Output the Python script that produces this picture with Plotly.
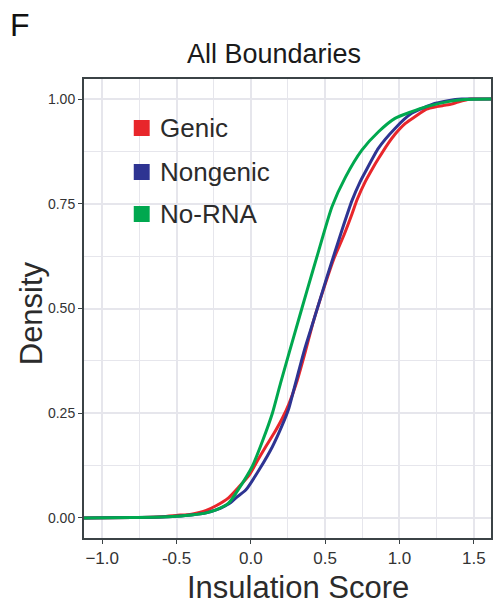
import plotly.graph_objects as go

# ---- data ----
series_names = ["Genic", "Nongenic", "No-RNA"]
series_colors = ["#E8262B", "#2E3492", "#00A84F"]

genic_x = [-1.13, -0.8, -0.6, -0.5, -0.4, -0.346, -0.3, -0.234, -0.15, -0.078, -0.01, 0.05,
           0.1, 0.156, 0.212, 0.256, 0.312, 0.36, 0.424, 0.502, 0.56, 0.624, 0.68, 0.714,
           0.77, 0.82, 0.859, 0.92, 0.97, 1.04, 1.104, 1.182, 1.25, 1.3, 1.35, 1.394, 1.48, 1.63]
genic_y = [0.0, 0.001, 0.003, 0.006, 0.009, 0.013, 0.018, 0.029, 0.048, 0.075, 0.103, 0.14,
           0.17, 0.202, 0.238, 0.272, 0.328, 0.388, 0.473, 0.56, 0.62, 0.673, 0.725, 0.759,
           0.803, 0.835, 0.858, 0.892, 0.916, 0.942, 0.958, 0.976, 0.982, 0.985, 0.988, 0.993, 1.0, 1.0]

nongenic_x = [-1.13, -0.8, -0.6, -0.5, -0.4, -0.3, -0.234, -0.15, -0.10, -0.033, 0.056, 0.145,
              0.212, 0.256, 0.301, 0.36, 0.424, 0.513, 0.613, 0.68, 0.736, 0.77, 0.859, 0.97,
              1.082, 1.215, 1.327, 1.42, 1.63]
nongenic_y = [0.0, 0.001, 0.002, 0.004, 0.007, 0.012, 0.019, 0.033, 0.048, 0.067, 0.115, 0.17,
              0.222, 0.262, 0.322, 0.40, 0.473, 0.576, 0.687, 0.757, 0.803, 0.826, 0.883, 0.930,
              0.966, 0.987, 0.996, 1.0, 1.0]

norna_x = [-1.13, -0.8, -0.6, -0.5, -0.4, -0.3, -0.234, -0.15, -0.078, 0.011, 0.078, 0.145,
           0.2, 0.26, 0.323, 0.38, 0.446, 0.546, 0.636, 0.747, 0.859, 0.97, 1.082, 1.182,
           1.327, 1.44, 1.63]
norna_y = [0.0, 0.001, 0.002, 0.004, 0.007, 0.012, 0.019, 0.035, 0.071, 0.124, 0.183, 0.25,
           0.322, 0.397, 0.475, 0.545, 0.625, 0.743, 0.813, 0.878, 0.922, 0.954, 0.970, 0.982,
           0.994, 0.999, 1.0]

x_tickvals = [-1.0, -0.5, 0.0, 0.5, 1.0, 1.5]
x_ticktext = ["\u22121.0", "-0.5", "0.0", "0.5", "1.0", "1.5"]
x_minor = [-0.75, -0.25, 0.25, 0.75, 1.25]
y_tickvals = [0.0, 0.25, 0.5, 0.75, 1.0]
y_ticktext = ["0.00", "0.25", "0.50", "0.75", "1.00"]
y_minor = [0.125, 0.375, 0.625, 0.875]

title_text = "All Boundaries"
x_label = "Insulation Score"
y_label = "Density"
panel_letter = "F"

# ---- layout geometry (pixels) ----
W, H = 498, 605
L, R, T, B = 84, 5, 79, 67
pw, ph = W - L - R, H - T - B

def px(x):
    return (x - L) / pw

def py(y):
    return (H - B - y) / ph

FONT = "Liberation Sans, Arial, Helvetica, sans-serif"
TXT = "#2b2b2b"
GRID = "#E6E6EC"
FRAME = "#3b4346"

fig = go.Figure()
all_x = [genic_x, nongenic_x, norna_x]
all_y = [genic_y, nongenic_y, norna_y]
for name, col, xs, ys in zip(series_names, series_colors, all_x, all_y):
    fig.add_trace(go.Scatter(x=xs, y=ys, mode="lines", name=name,
                             line=dict(color=col, width=3, shape="spline", smoothing=0.6),
                             showlegend=False))

# legend drawn manually
leg_y = [128, 172, 214]
for name, col, yy in zip(series_names, series_colors, leg_y):
    fig.add_shape(type="rect", xref="paper", yref="paper",
                  x0=px(134), x1=px(150), y0=py(yy + 8), y1=py(yy - 8),
                  fillcolor=col, line=dict(width=0))
    fig.add_annotation(text=name, xref="paper", yref="paper", x=px(158), y=py(yy),
                       xanchor="left", yanchor="middle", showarrow=False,
                       font=dict(family=FONT, size=26, color=TXT))

fig.add_annotation(text=panel_letter, xref="paper", yref="paper", x=px(8), y=py(25),
                   xanchor="left", yanchor="middle", showarrow=False,
                   font=dict(family=FONT, size=32, color="#111111"))
fig.add_annotation(text=title_text, xref="paper", yref="paper", x=px(275), y=py(54),
                   xanchor="center", yanchor="middle", showarrow=False,
                   font=dict(family=FONT, size=27, color="#1a1a1a"))
fig.add_annotation(text=x_label, xref="paper", yref="paper", x=px(299), y=py(587),
                   xanchor="center", yanchor="middle", showarrow=False,
                   font=dict(family=FONT, size=31, color=TXT))
fig.add_annotation(text=y_label, xref="paper", yref="paper", x=px(31), y=py(313),
                   xanchor="center", yanchor="middle", showarrow=False, textangle=-90,
                   font=dict(family=FONT, size=31, color=TXT))

fig.update_layout(
    width=W, height=H,
    margin=dict(l=L, r=R, t=T, b=B, pad=0),
    paper_bgcolor="white", plot_bgcolor="white",
    font=dict(family=FONT, color=TXT),
    showlegend=False,
)
fig.update_xaxes(
    range=[-1.1225, 1.616], tickmode="array", tickvals=x_tickvals, ticktext=x_ticktext,
    tickfont=dict(size=17, color="#333333"),
    showgrid=True, gridcolor=GRID, gridwidth=2.2, zeroline=False,
    minor=dict(tickvals=x_minor, showgrid=True, gridcolor=GRID, gridwidth=1.3),
    showline=True, mirror=True, linecolor=FRAME, linewidth=2,
    ticks="outside", ticklen=4, tickcolor=FRAME, tickwidth=1,
)
fig.update_yaxes(
    range=[-0.048, 1.048], tickmode="array", tickvals=y_tickvals, ticktext=y_ticktext,
    tickfont=dict(size=14, color="#333333"),
    showgrid=True, gridcolor=GRID, gridwidth=2.2, zeroline=False,
    minor=dict(tickvals=y_minor, showgrid=True, gridcolor=GRID, gridwidth=1.3),
    showline=True, mirror=True, linecolor=FRAME, linewidth=2,
    ticks="outside", ticklen=4, tickcolor=FRAME, tickwidth=1,
)

fig.write_html("out.html")
